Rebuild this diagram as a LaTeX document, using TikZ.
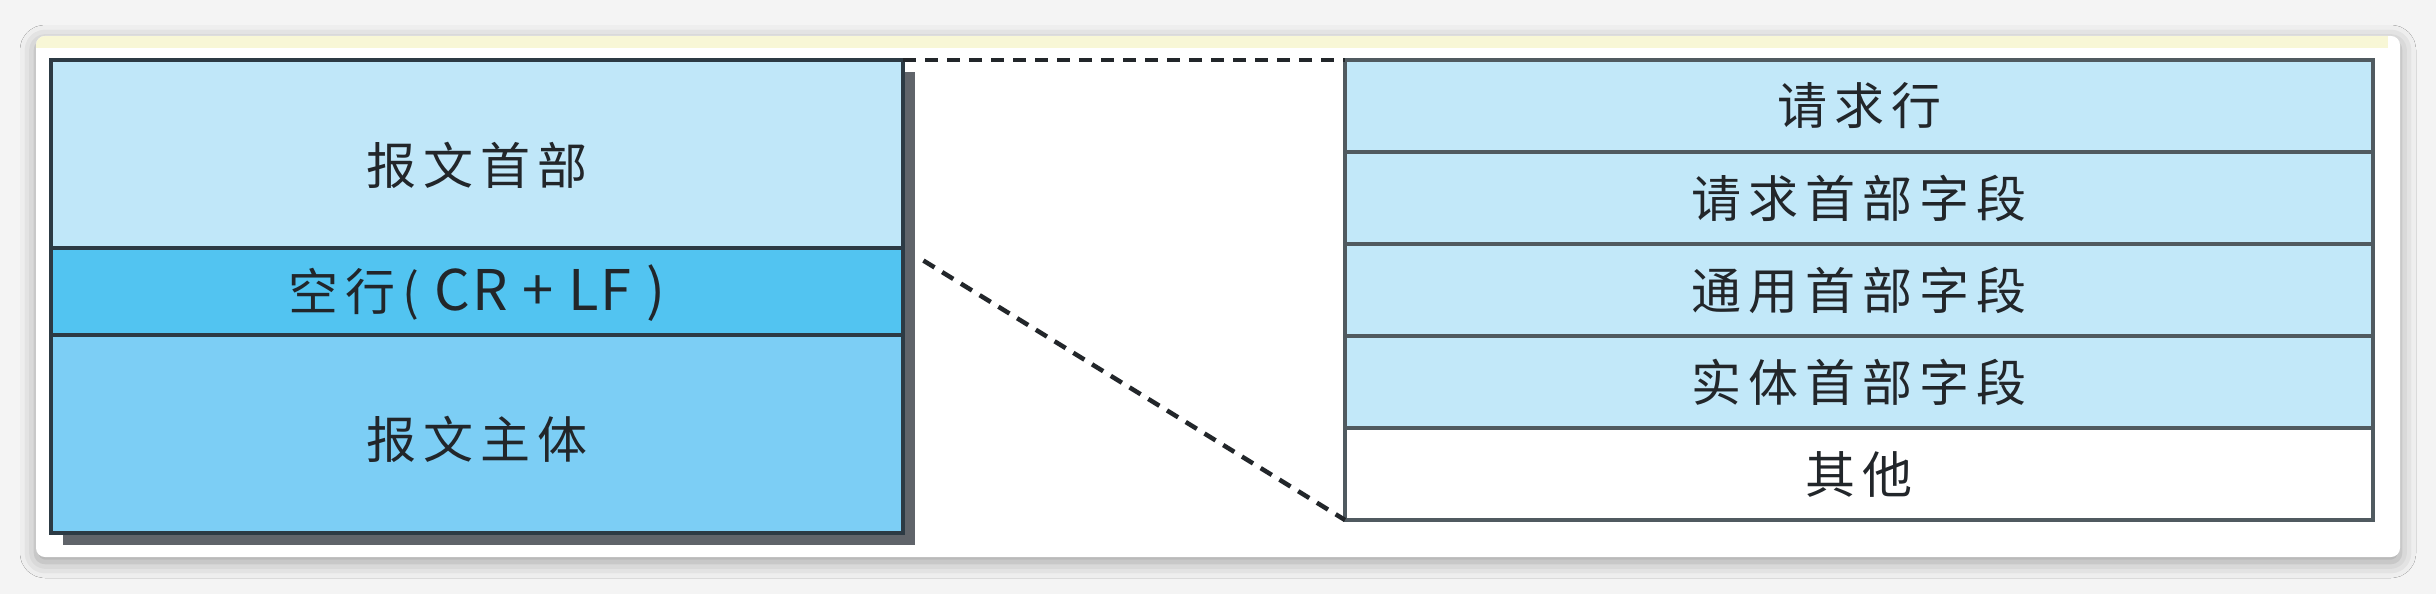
\documentclass[tikz,border=0pt]{standalone}
\usepackage{fontspec}
\newfontfamily\cjk[LetterSpace=14]{Noto Sans CJK SC}
\usetikzlibrary{positioning,shadows,shadows.blur}
\definecolor{headblue}{RGB}{192,231,249}
\definecolor{lineblue}{RGB}{82,196,241}
\definecolor{bodyblue}{RGB}{124,206,245}
\definecolor{rowblue}{RGB}{194,232,249}
\definecolor{edge}{RGB}{44,58,68}
\definecolor{edgegray}{RGB}{80,90,96}
\definecolor{shade}{RGB}{96,100,106}
\definecolor{strip}{RGB}{248,247,214}
\definecolor{page}{RGB}{244,244,244}
\definecolor{ink}{RGB}{34,38,42}

\begin{document}
\begin{tikzpicture}[x=1pt, y=-1pt,
  every node/.style = {shape=rectangle, draw=edge, line width=3.5pt,
    inner sep=0pt, outer sep=0pt, align=center, text=ink,
    font=\cjk\fontsize{50}{60}\selectfont}]
  \tikzstyle{msg}=[minimum width=852pt, fill=headblue, text depth=6pt,
    drop shadow={shadow xshift=12pt, shadow yshift=-12pt, opacity=1, fill=shade}]
  \tikzstyle{field}=[minimum width=1028pt, minimum height=92pt,
    draw=edgegray, fill=rowblue]
  \tikzstyle{link}=[draw=ink, line width=4.5pt, dash pattern=on 13pt off 9pt]

  % page and card
  \useasboundingbox (0,0) rectangle (2436,594);
  \fill[page] (0,0) rectangle (2436,594);
  \fill[white, rounded corners=9pt,
    blur shadow={shadow xshift=0pt, shadow yshift=-5pt,
      shadow blur radius=16pt, shadow opacity=35}]
    (36,36) rectangle (2400,557);
  \begin{scope}
    \clip[rounded corners=9pt] (36,36) rectangle (2400,557);
    \fill[strip] (36,36) rectangle (2388,48);
  \end{scope}

  % message
  \node[msg, anchor=north west, minimum height=188pt, text height=66pt] (head) at (51,60) {报文首部};
  \node[msg, below=0pt of head, minimum height=87pt, fill=lineblue, text height=44pt] (blank)
    {空行(\addfontfeature{LetterSpace=4}\fontsize{56}{60}\selectfont{} CR + LF )};
  \node[msg, below=0pt of blank, minimum height=198pt, fill=bodyblue, text height=54pt] (body) {报文主体};

  % header fields
  \node[field, anchor=north west] (reqline) at (1345,60) {请求行};
  \node[field, below=0pt of reqline] (reqhead) {请求首部字段};
  \node[field, below=0pt of reqhead] (genhead) {通用首部字段};
  \node[field, below=0pt of genhead] (enthead) {实体首部字段};
  \node[field, below=0pt of enthead, fill=white] (other) {其他};

  \draw[link] (head.north east) -- (reqline.north west);
  \draw[link, shorten <=24pt] (blank.north east) -- (other.south west);
\end{tikzpicture}
\end{document}
